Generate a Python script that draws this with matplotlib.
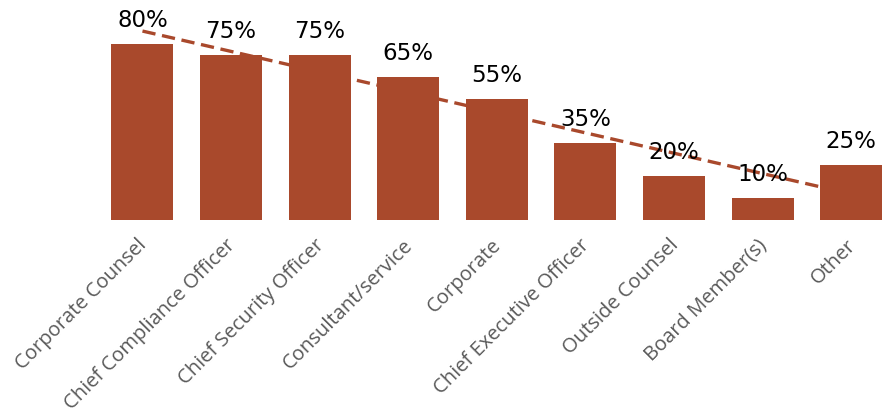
import numpy as np
import matplotlib
matplotlib.use("Agg")
import matplotlib.pyplot as plt
from matplotlib.transforms import ScaledTranslation

categories = ["Corporate Counsel", "Chief Compliance Officer", "Chief Security Officer",
              "Consultant/service", "Corporate", "Chief Executive Officer",
              "Outside Counsel", "Board Member(s)", "Other"]
values = [80, 75, 75, 65, 55, 35, 20, 10, 25]

bar_color = "#A9492C"

fig = plt.figure(figsize=(8.91, 4.2), dpi=100)
ax = fig.add_axes([0.1102, 0.476, 0.8898, 0.524])

x = np.arange(len(categories))
ax.bar(x, values, width=0.7, color=bar_color)

# value labels above each bar
for xi, v in zip(x, values):
    ax.annotate(f"{v}%", (xi, v), xytext=(0, 12), textcoords="offset points",
                ha="center", va="baseline", fontsize=16.5, family="DejaVu Sans",
                color="black")

# linear trend line
slope, intercept = np.polyfit(x, values, 1)
tx = np.array([0, len(x) - 1 - 0.35])
ax.plot(tx, slope * tx + intercept, color=bar_color, lw=2.4, ls=(0, (4, 2)))

ax.set_xlim(-0.5, 8.45)
ax.set_ylim(0, 100)
ax.set_xticks(x)
ax.set_xticklabels(categories, rotation=45, ha="right", rotation_mode="anchor",
                   fontsize=14.5, family="Open Sans", color="#595959")
ax.tick_params(axis="x", length=0, pad=11)
# nudge the rotated labels a little to the left
shift = ScaledTranslation(-4 / 72, 0, fig.dpi_scale_trans)
for lbl in ax.get_xticklabels():
    lbl.set_transform(lbl.get_transform() + shift)
ax.set_yticks([])
for s in ax.spines.values():
    s.set_visible(False)

fig.savefig("out.png", dpi=100)
